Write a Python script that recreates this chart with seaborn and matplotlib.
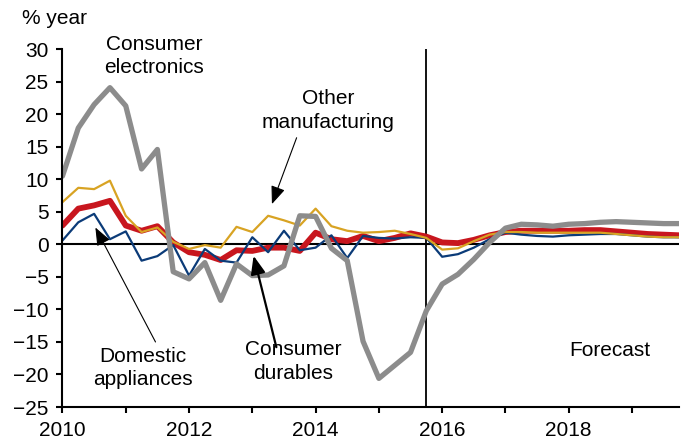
import numpy as np
import pandas as pd
import matplotlib
matplotlib.use("Agg")
import matplotlib.pyplot as plt
import seaborn as sns

sns.set_style("ticks")
plt.rcParams["font.family"] = ["Liberation Sans", "DejaVu Sans"]
plt.rcParams["text.color"] = "black"

# quarterly, 2010 Q1 .. 2019 Q4 (year fraction positions)
quarters = 2010 + np.arange(40) * 0.25

consumer_electronics = [10.5, 17.9, 21.5, 24.1, 21.3, 11.6, 14.6, -4.2, -5.3, -2.8,
                        -8.6, -3.0, -4.8, -4.7, -3.3, 4.4, 4.3, -0.6, -2.5, -14.9,
                        -20.6, -18.6, -16.6, -10.2, -6.1, -4.6, -2.3, 0.3, 2.5, 3.1,
                        3.0, 2.8, 3.1, 3.2, 3.4, 3.5, 3.4, 3.3, 3.2, 3.2]
consumer_durables = [2.9, 5.5, 6.0, 6.7, 2.9, 2.1, 2.8, 0.3, -1.2, -1.6,
                     -2.4, -0.9, -1.0, -0.5, -0.5, -1.0, 1.8, 0.8, 0.5, 1.3,
                     0.5, 1.0, 1.7, 1.2, 0.3, 0.2, 0.7, 1.4, 1.9, 2.1,
                     2.1, 2.1, 2.1, 2.2, 2.2, 2.0, 1.8, 1.6, 1.5, 1.4]
other_manufacturing = [6.5, 8.7, 8.5, 9.8, 4.4, 1.9, 2.6, 0.4, -0.7, -0.1,
                       -0.5, 2.7, 1.9, 4.4, 3.7, 2.9, 5.5, 2.8, 2.1, 1.8,
                       1.9, 2.1, 1.6, 1.0, -0.8, -0.6, 0.5, 1.5, 1.9, 1.9,
                       1.8, 1.8, 1.8, 1.8, 1.8, 1.6, 1.4, 1.2, 1.1, 1.1]
domestic_appliances = [0.6, 3.4, 4.7, 0.8, 2.0, -2.5, -1.8, -0.1, -4.8, -0.7,
                       -2.5, -2.8, 1.1, -1.2, 2.1, -0.9, -0.5, 1.4, -2.1, 1.3,
                       1.0, 0.9, 1.1, 1.0, -1.9, -1.5, -0.5, 0.8, 1.8, 1.5,
                       1.3, 1.2, 1.4, 1.5, 1.6, 1.6, 1.4, 1.2, 1.1, 1.1]

forecast_start = 2015.75

fig = plt.figure(figsize=(6.88, 4.48), dpi=100)
ax = fig.add_axes([0.0908, 0.0915, 0.8968, 0.7985])

df = pd.DataFrame({"quarter": quarters,
                   "durables": consumer_durables,
                   "appliances": domestic_appliances,
                   "other": other_manufacturing,
                   "electronics": consumer_electronics})

sns.lineplot(data=df, x="quarter", y="durables", color="#c8161e", linewidth=4.2, ax=ax)
sns.lineplot(data=df, x="quarter", y="appliances", color="#0b3b78", linewidth=1.6, ax=ax)
sns.lineplot(data=df, x="quarter", y="other", color="#d8a323", linewidth=1.6, ax=ax)
sns.lineplot(data=df, x="quarter", y="electronics", color="#8c8c8c", linewidth=3.8, ax=ax)

ax.axhline(0, color="black", lw=1.5, zorder=1)
ax.axvline(forecast_start, color="black", lw=1.3, zorder=1)

ax.set_xlim(2010, 2019.75)
ax.set_ylim(-25, 30)
ax.set_yticks(range(-25, 31, 5))
ax.set_xticks([2010, 2012, 2014, 2016, 2018])
ax.set_xticks(range(2011, 2020, 2), minor=True)
ax.set_xlabel("")
ax.set_ylabel("")
sns.despine(ax=ax)
for s in ["left", "bottom"]:
    ax.spines[s].set_color("black")
    ax.spines[s].set_linewidth(1.5)
ax.tick_params(axis="both", which="both", direction="out", length=4, width=1.5,
               color="black", labelsize=15, labelcolor="black")
ax.tick_params(axis="y", pad=6)
ax.tick_params(axis="x", pad=6)

fig.text(22 / 688, 1 - 19 / 448, "% year", fontsize=15, ha="left", va="center")

txt = dict(fontsize=15, ha="center", va="center", linespacing=1.3)
ax.text(2011.45, 29.0, "Consumer\nelectronics", **txt)
ax.text(2014.2, 20.6, "Other\nmanufacturing", **txt)
ax.text(2011.27, -19.0, "Domestic\nappliances", **txt)
ax.text(2013.65, -18.0, "Consumer\ndurables", **txt)
ax.text(2018.65, -16.3, "Forecast", **txt)

head = "-|>,head_length=0.5,head_width=0.2"
thin = dict(arrowstyle=head, color="black", lw=0.8, mutation_scale=22, shrinkA=0, shrinkB=0)
thick = dict(arrowstyle=head, color="black", lw=1.6, mutation_scale=22, shrinkA=0, shrinkB=0)
ax.annotate("", xy=(2013.31, 6.2), xytext=(2013.7, 16.4), arrowprops=thin)
ax.annotate("", xy=(2010.52, 2.6), xytext=(2011.47, -15.0), arrowprops=thin)
ax.annotate("", xy=(2013.02, -1.75), xytext=(2013.38, -15.8), arrowprops=thick)

fig.savefig("out.png", dpi=100)
